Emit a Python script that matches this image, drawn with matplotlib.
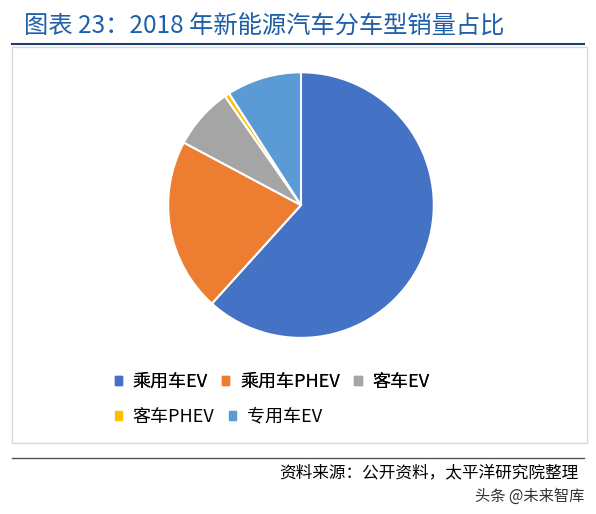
import matplotlib.pyplot as plt
from matplotlib.patches import Rectangle
plt.rcParams['font.family'] = ['Noto Sans CJK SC', 'DejaVu Sans']

labels = ['乘用车EV', '乘用车PHEV', '客车EV', '客车PHEV', '专用车EV']
values = [61.7, 21.1, 7.5, 0.6, 9.1]
colors = ['#4472C4', '#ED7D31', '#A5A5A5', '#FFC000', '#5B9BD5']

fig = plt.figure(figsize=(5.96, 5.14), dpi=100)
fig.text(0.04, 0.948, '图表 23：2018 年新能源汽车分车型销量占比', color='#1F5FA8', fontsize=17.5, va='center')
fig.add_artist(plt.Line2D([0.02, 0.98], [0.915, 0.915], color='#1F3F6F', lw=1.5))
fig.add_artist(Rectangle((0.02, 0.138), 0.965, 0.77, fill=False, ec='#D9D9D9', lw=1))
ax = fig.add_axes([0.226, 0.278, 0.558, 0.646])
ax.pie(values, colors=colors, startangle=90, counterclock=False,
       wedgeprops=dict(edgecolor='white', linewidth=1.5))
ax.set_aspect('equal')
handles = [plt.Rectangle((0, 0), 1, 1, color=c) for c in colors]
kw = dict(frameon=False, fontsize=13, handlelength=0.4, handleheight=0.4, columnspacing=0.8, handletextpad=0.6)
leg1 = fig.legend(handles[:3], labels[:3], loc='center left', bbox_to_anchor=(0.165, 0.257), ncol=3, **kw)
fig.legend(handles[3:], labels[3:], loc='center left', bbox_to_anchor=(0.165, 0.189), ncol=2, **kw)
fig.add_artist(leg1)
fig.add_artist(plt.Line2D([0.02, 0.98], [0.108, 0.108], color='#555555', lw=1))
fig.text(0.97, 0.08, '资料来源：公开资料，太平洋研究院整理', ha='right', va='center', fontsize=12, style='italic')
fig.text(0.98, 0.035, '头条 @未来智库', ha='right', va='center', fontsize=11, color='#333333')
fig.savefig('out.png', dpi=100, facecolor='white')
